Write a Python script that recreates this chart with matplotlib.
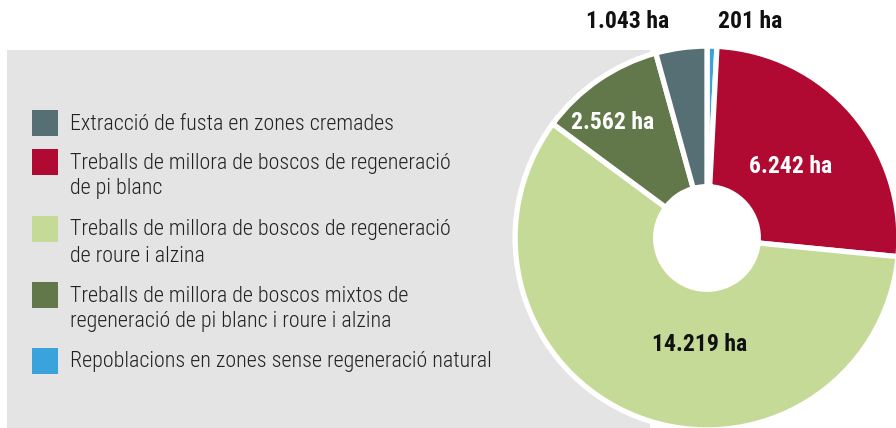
import matplotlib.pyplot as plt
from matplotlib.patches import Rectangle

# dades (ha)
etiquetes = [
    "Repoblacions en zones sense regeneració natural",
    "Treballs de millora de boscos de regeneració\nde pi blanc",
    "Treballs de millora de boscos de regeneració\nde roure i alzina",
    "Treballs de millora de boscos mixtos de\nregeneració de pi blanc i roure i alzina",
    "Extracció de fusta en zones cremades",
]
hectarees = [201, 6242, 14219, 2562, 1043]
colors = ["#3aa3dc", "#b00a33", "#c4da96", "#62784a", "#566f75"]

# ordre de la llegenda (de dalt a baix)
ordre_llegenda = [4, 1, 2, 3, 0]

# posicions de les etiquetes (unitats del radi) i color del text
pos_etiquetes = [(0.226, 1.137), (0.442, 0.374), (-0.037, -0.563), (-0.495, 0.61), (-0.416, 1.137)]
color_text = ["#111111", "white", "#111111", "white", "#111111"]

W, H = 896, 428
fig = plt.figure(figsize=(W / 100, H / 100), dpi=100)
fig.patch.set_facecolor("white")

font_narrow = ["Roboto Condensed", "DejaVu Sans"]

# fons gris
fig.patches.append(Rectangle((7 / W, 0), (650 - 7) / W, (H - 50) / H,
                             transform=fig.transFigure, facecolor="#e4e4e4",
                             edgecolor="none", zorder=-5))

# pastís
cx, cy, r = 707, 238, 190
ax = fig.add_axes([(cx - r) / W, (H - cy - r) / H, 2 * r / W, 2 * r / H])
ax.patch.set_alpha(0)
ax.pie(hectarees, colors=colors, startangle=90, counterclock=False, radius=1.01,
       wedgeprops=dict(width=1.01 - 0.27, edgecolor="white", linewidth=3.8))
ax.set_xlim(-1, 1)
ax.set_ylim(-1, 1)
ax.axis("off")

for v, (x, y), c in zip(hectarees, pos_etiquetes, color_text):
    txt = f"{v:,}".replace(",", ".") + " ha"
    ax.text(x, y, txt, ha="center", va="center", fontsize=17, fontweight="bold",
            color=c, family=font_narrow, clip_on=False)

# llegenda
y_quadres = [123, 162, 229, 295, 361]
for i, yy in zip(ordre_llegenda, y_quadres):
    fig.patches.append(Rectangle((32 / W, (H - yy - 13) / H), 26 / W, 26 / H,
                                 transform=fig.transFigure, facecolor=colors[i],
                                 edgecolor="none", zorder=2))
    for k, linia in enumerate(etiquetes[i].split("\n")):
        fig.text(70 / W, (H - yy - 1 - 26 * k) / H, linia, ha="left", va="center",
                 fontsize=15.8, fontweight="light", color="#222222", family=font_narrow)

fig.savefig("out.png", dpi=100)
